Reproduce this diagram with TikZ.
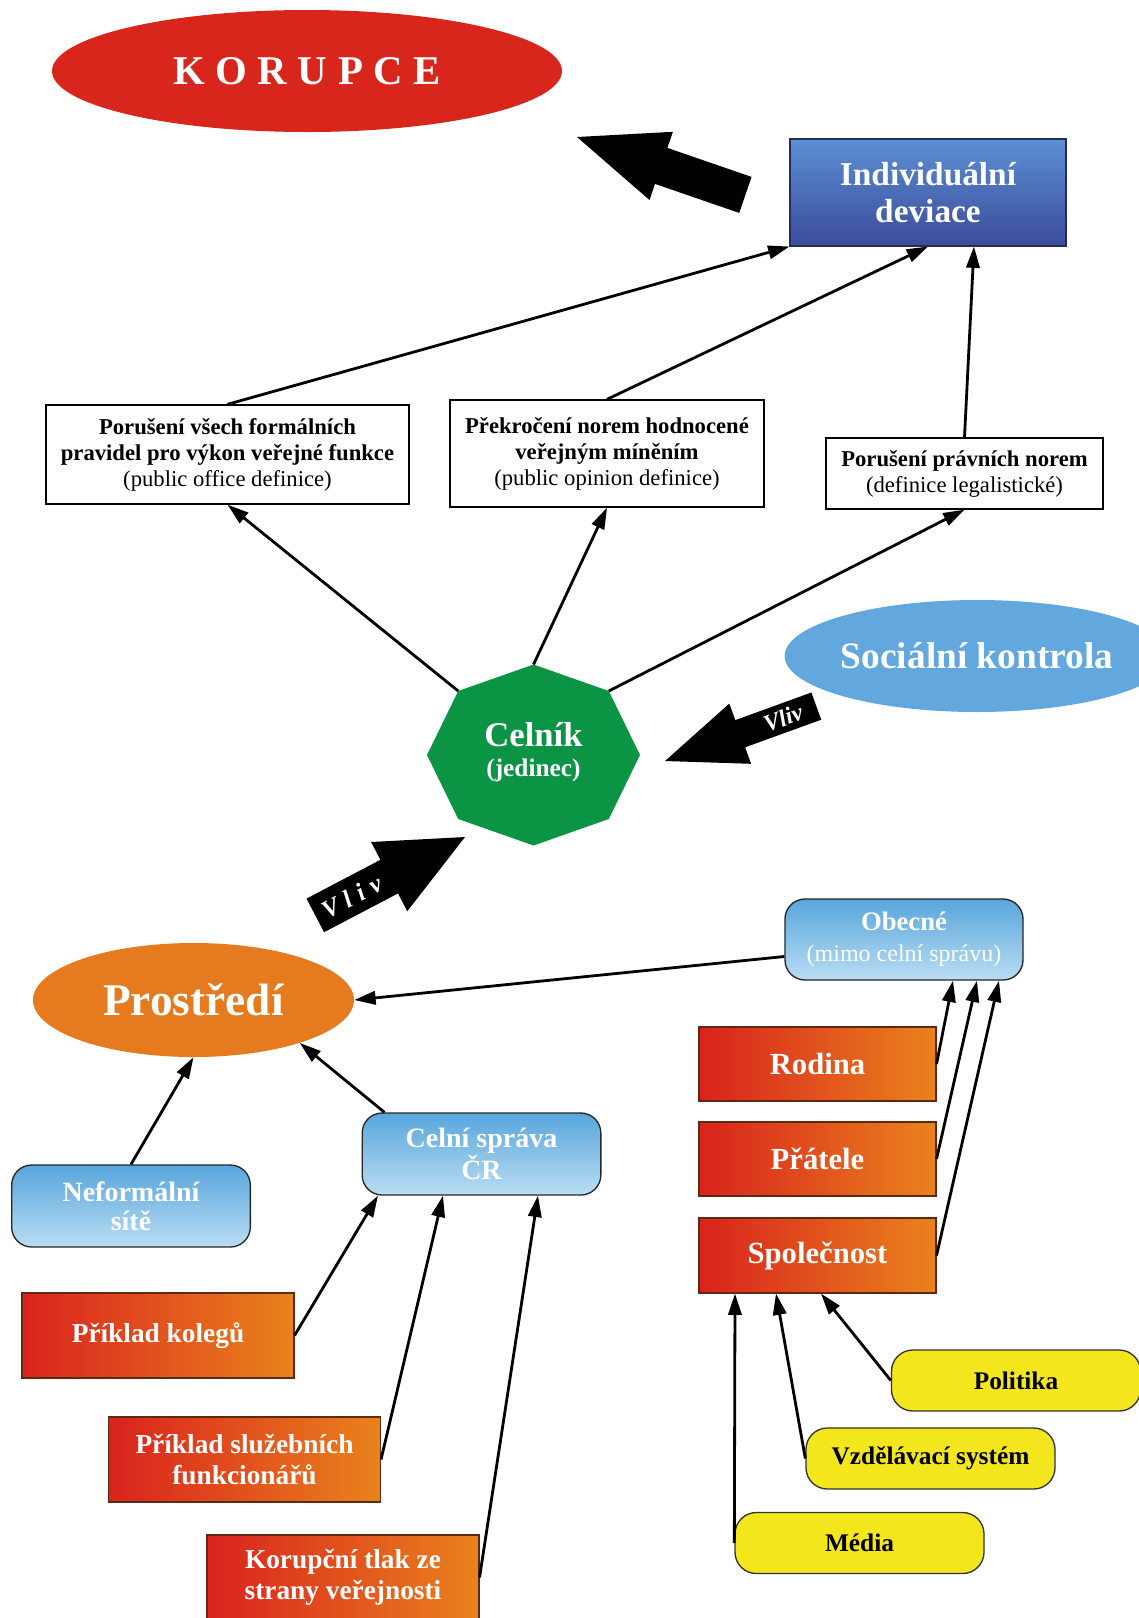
\documentclass[tikz,border=0pt]{standalone}
\usepackage{fontspec}
\setmainfont{Liberation Serif}
\usetikzlibrary{arrows.meta,calc,shapes.geometric}
\definecolor{korred}{HTML}{D9261D}
\definecolor{indT}{HTML}{5C8FD3}
\definecolor{indB}{HTML}{3B4B9A}
\definecolor{socblue}{HTML}{62A8DE}
\definecolor{celgreen}{HTML}{0B9444}
\definecolor{prosor}{HTML}{E57A1F}
\definecolor{lblueT}{HTML}{58A6DC}
\definecolor{lblueB}{HTML}{BADDF3}
\definecolor{redL}{HTML}{D9231E}
\definecolor{redR}{HTML}{E9821C}
\definecolor{redbord}{HTML}{5A2A12}
\definecolor{yel}{HTML}{F4E61C}
\tikzset{
 conn/.style={line width=2.1pt, -{Triangle[length=16pt,width=10pt]}},
 defbox/.style={draw=black, line width=1pt, fill=white, align=center, inner sep=0pt, font=\fontsize{17}{19.5}\selectfont},
 bluebox/.style={draw=black!85, line width=1pt, rounded corners=15pt, top color=lblueT, bottom color=lblueB, text=white, align=center, inner sep=0pt, minimum width=179pt, minimum height=61.5pt},
 redbox/.style={draw=redbord, line width=0.8pt, left color=redL, right color=redR, text=white, align=center, inner sep=0pt, font=\bfseries\fontsize{20.5}{23}\selectfont, minimum width=204pt, minimum height=63.75pt},
 redbox2/.style={draw=redbord, line width=0.8pt, left color=redL, right color=redR, text=white, align=center, inner sep=0pt, font=\bfseries\fontsize{23}{26}\selectfont, minimum width=177.75pt, minimum height=55.5pt},
 yelbox/.style={draw=black!80, line width=1pt, fill=yel, rounded corners=16pt, inner sep=0pt, minimum width=186.75pt, minimum height=45.75pt, font=\bfseries\fontsize{19}{22}\selectfont},
 bigarrow/.style={fill=black},
 vlivtext/.style={text=white, inner sep=0pt, font=\bfseries\itshape\fontsize{17}{17}\selectfont},
}
\begin{document}
\begin{tikzpicture}[x=0.75pt,y=-0.75pt]
\useasboundingbox (0,0) rectangle (1139,1618);

% top
\node[ellipse, fill=korred, inner sep=0pt, minimum width=382.5pt, minimum height=91.5pt, text=white, font=\bfseries\fontsize{30.6}{32}\selectfont] (korupce) at (307,71) {K\kern8pt O\kern8pt R\kern8pt U\kern8pt P\kern8pt C\kern8pt E};
\node[draw=indB!60!black, line width=0.8pt, top color=indT, bottom color=indB, text=white, align=center, inner sep=0pt, minimum width=207pt, minimum height=80.25pt, font=\bfseries\fontsize{25}{28}\selectfont] (indiv) at (928,192.5) {Individuální\\deviace};
\fill[bigarrow] (577,137) -- (672.9,131.8) -- (667.4,147.9) -- (751.6,176.9) -- (739.2,212.9) -- (655,183.9) -- (649.5,200) -- cycle;

% definition boxes
\node[defbox, minimum width=272.25pt, minimum height=74.25pt] (box1) at (227.5,454.5) {\textbf{Porušení všech formálních}\\\textbf{pravidel pro výkon veřejné funkce}\\(public office definice)};
\node[defbox, minimum width=235.5pt, minimum height=80.25pt] (box2) at (607,453.5) {\textbf{Překročení norem hodnocené}\\\textbf{veřejným míněním}\\(public opinion definice)};
\node[defbox, minimum width=207.75pt, minimum height=53.25pt] (box3) at (964.5,473.5) {\textbf{Porušení právních norem}\\(definice legalistické)};

\draw[conn] (box1.north) -- (indiv.south west);
\draw[conn] (box2.north) -- (indiv.south);
\draw[conn] (box3.north) -- ($(indiv.south)+(46,0)$);

% Socialni kontrola
\node[ellipse, fill=socblue, inner sep=0pt, minimum width=243pt, minimum height=84pt, text=white, font=\bfseries\fontsize{28}{30}\selectfont] (soc) at (977,656) {Sociální kontrola};

% Celnik octagon
\coordinate (cT) at (533.5,664.5);
\coordinate (cUR) at (608.8,691);
\coordinate (cR) at (640,755);
\coordinate (cLR) at (608.8,819);
\coordinate (cB) at (533.5,845.5);
\coordinate (cLL) at (458.2,819);
\coordinate (cL) at (427,755);
\coordinate (cUL) at (458.2,691);
\fill[celgreen] (cT) -- (cUR) -- (cR) -- (cLR) -- (cB) -- (cLL) -- (cL) -- (cUL) -- cycle;
\node[text=white, align=center, inner sep=0pt, font=\bfseries\fontsize{26}{23}\selectfont] (celnik) at (533.5,752) {Celník\\{\fontsize{19}{23}\selectfont(jedinec)}};

\draw[conn] (cUL) -- (box1.south);
\draw[conn] (cT) -- (box2.south);
\draw[conn] (cUR) -- (box3.south);

% Vliv arrows
\fill[bigarrow] (665,761) -- (729.3,703.6) -- (735.3,720.1) -- (811.4,692.5) -- (821.2,719.7) -- (745.1,747.3) -- (751.1,763.8) -- cycle;
\node[vlivtext, rotate=20, font=\bfseries\itshape\fontsize{18}{18}\selectfont] (vliv1) at (783,718) {Vliv};
\fill[bigarrow] (465,837) -- (371.1,842) -- (380.4,859.8) -- (306.5,898.6) -- (324.1,932.2) -- (398,893.4) -- (407.3,911.2) -- cycle;
\node[vlivtext, rotate=27.6, font=\bfseries\itshape\fontsize{19}{19}\selectfont] (vliv2) at (352,897) {V\kern5.5pt l\kern5.5pt i\kern5.5pt v};

% Prostredi
\node[ellipse, fill=prosor, inner sep=0pt, minimum width=240.75pt, minimum height=85.5pt, text=white, font=\bfseries\fontsize{34}{36}\selectfont] (prostredi) at (193.5,1000) {Prostředí};

\node[bluebox, minimum width=178.5pt, minimum height=60.75pt, font=\fontsize{18}{23}\selectfont] (obecne) at (904,939.5) {{\bfseries\fontsize{20}{23}\selectfont Obecné}\\(mimo celní správu)};
\node[bluebox, font=\bfseries\fontsize{21}{22}\selectfont] (celni) at (481.5,1154) {Celní správa\\ČR};
\node[bluebox, font=\bfseries\fontsize{21}{22}\selectfont] (neform) at (131,1206) {Neformální\\sítě};

\draw[conn] ($(obecne.west)+(0,17)$) -- (prostredi.east);
\draw[conn] (neform.north) -- (prostredi.south);
\draw[conn] ($(celni.north west)+(23,0)$) -- (prostredi.-22);

% right red boxes
\node[redbox2] (rodina) at (817.5,1064) {Rodina};
\node[redbox2] (pratele) at (817.5,1159) {Přátele};
\node[redbox2, minimum height=56.25pt] (spol) at (817.5,1255.5) {Společnost};

\draw[conn] (rodina.east) -- ($(obecne.south)+(49,0)$);
\draw[conn] (pratele.east) -- ($(obecne.south)+(73,0)$);
\draw[conn] (spol.east) -- ($(obecne.south)+(95,0)$);

% left red boxes
\node[redbox] (kolegu) at (158,1335.5) {Příklad kolegů};
\node[redbox] (sluz) at (244.5,1459.5) {Příklad služebních\\funkcionářů};
\node[redbox] (tlak) at (343,1577.5) {Korupční tlak ze\\strany veřejnosti};

\draw[conn] (kolegu.east) -- ($(celni.south)+(-103.5,0)$);
\draw[conn] (sluz.east) -- ($(celni.south)+(-38.5,0)$);
\draw[conn] (tlak.east) -- ($(celni.south)+(56.5,0)$);

% yellow
\node[yelbox] (politika) at (1016,1380.5) {Politika};
\node[yelbox] (vzdel) at (930.5,1458.5) {Vzdělávací systém};
\node[yelbox] (media) at (859.5,1543) {Média};

\draw[conn] (media.west) -- ($(spol.south)+(-82.5,0)$);
\draw[conn] (vzdel.west) -- ($(spol.south)+(-41.5,0)$);
\draw[conn] (politika.west) -- ($(spol.south)+(3.5,0)$);
\end{tikzpicture}
\end{document}
